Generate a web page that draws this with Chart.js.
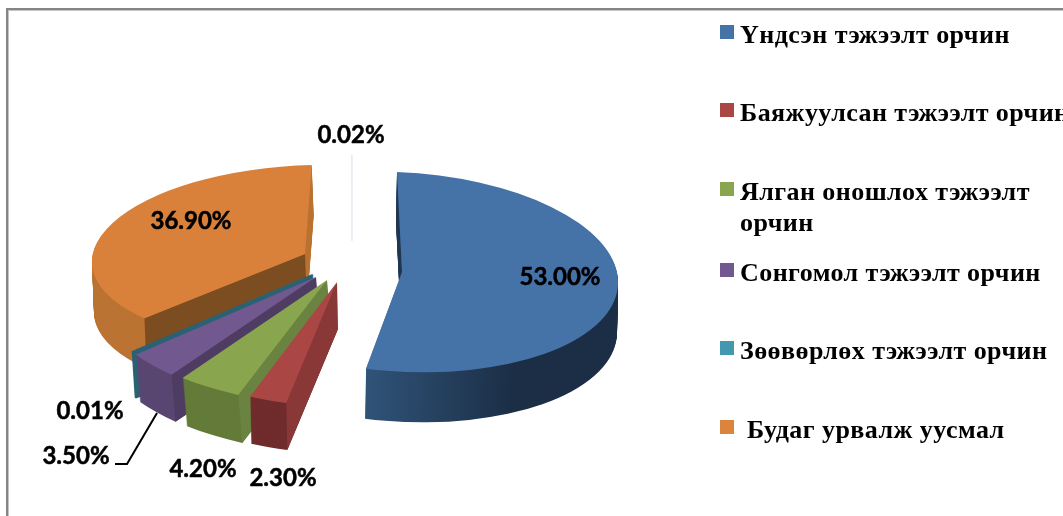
<!DOCTYPE html>
<html>
<head>
<meta charset="utf-8">
<style>
  html, body { margin: 0; padding: 0; background: #fff; overflow: hidden; }
  #wrap { position: relative; width: 1063px; height: 516px; }
  #frame { position: absolute; left: 6px; top: 8px; right: -10px; bottom: -10px;
    border-left: 2px solid #858585; border-top: 2px solid #858585; box-shadow: inset 1px 1px 0 #c4c4c4; }
  canvas { position: absolute; left: 0; top: 0; }
</style>
<script src="https://cdn.jsdelivr.net/npm/chart.js@4"></script>
</head>
<body>
<div id="wrap">
  <div id="frame"></div>
  <canvas id="chart" width="1063" height="516"></canvas>
</div>
<script>
// last slice (0.02%) has no legend entry in the picture
const categories = [
  'Үндсэн тэжээлт орчин',
  'Баяжуулсан тэжээлт орчин',
  ['Ялган оношлох тэжээлт', 'орчин'],
  'Сонгомол тэжээлт орчин',
  'Зөөвөрлөх тэжээлт орчин',
  ' Будаг урвалж уусмал',
  ''
];
const values = [53.0, 2.3, 4.2, 3.5, 0.01, 36.9, 0.02];

const topColors = ['#4572a7', '#aa4643', '#89a54e', '#71588f', '#2b6273', '#d9813b', '#d5d9e6'];
const legendColors = ['#4572a7', '#aa4643', '#89a54e', '#71588f', '#4198af', '#db843d'];
const rimColors = [['#2f5277', '#1b2e45'], '#702c2c', '#647b39', '#5a4672', '#2b6273', '#bb7333', '#d5d9e6'];
const faceColors = ['#1f3550', '#8a3737', '#6b8340', '#4e3c62', '#2b6273', '#7d4d22', '#d5d9e6'];
const borderWidths = [0, 0, 0, 0, 3, 0, 1.5];

// how each exploded slice is laid on the tilted plane: pixels of the apex and of the radius
const sliceFrames = [
  { x: 402, y: 272, a: 216, b: 8, c: 5, d: 100, depth: 50, lean: -1 },
  { x: 337, y: 282, a: 260, b: 9.6, c: -1.4, d: 125, depth: 47, lean: 1 },
  { x: 327, y: 280, a: 242, b: 9.4, c: -9.6, d: 125, depth: 48, lean: 4 },
  { x: 316, y: 277, a: 230, b: 12, c: -17.8, d: 126.6, depth: 47, lean: 4 },
  { x: 312, y: 275, a: 230, b: 12, c: -16, d: 125, depth: 46, lean: 3 },
  { x: 305, y: 254, a: 213, b: -5, c: -7, d: 89, depth: 50, lean: 2 },
  { x: 352, y: 241, a: 86, b: 0, c: 0, d: 86, depth: 0, lean: 0 }
];
const drawOrder = [6, 5, 4, 3, 2, 1, 0];

const labelSpots = [[560, 277], [283, 478], [203, 469], [76, 456], [90, 411], [191, 221], [351, 135]];
const legendRows = [43, 121, 200, 281, 359, 438];

function rimFill(ctx, arc, i) {
  const col = rimColors[i];
  if (typeof col === 'string') return col;
  const k = arc.outerRadius / sliceFrames[i].a;
  const g = ctx.createLinearGradient(arc.x - 36 * k, 0, arc.x + 108 * k, 0);
  g.addColorStop(0, col[0]);
  g.addColorStop(1, col[1]);
  return g;
}

function paintArc(ctx, arc, fill, stroke, width) {
  const saved = arc.options;
  arc.options = Object.assign({}, saved, {
    backgroundColor: fill, borderColor: stroke, borderWidth: width, borderJoinStyle: 'round'
  });
  arc.draw(ctx);
  arc.options = saved;
}

const pie3d = {
  id: 'pie3d',
  beforeDatasetsDraw(chart) {
    const ctx = chart.ctx;
    const arcs = chart.getDatasetMeta(0).data;
    drawOrder.forEach(i => {
      const arc = arcs[i];
      const f = sliceFrames[i];
      const R = arc.outerRadius;
      const place = (dx, dy) => {
        ctx.save();
        ctx.translate(f.x + dx, f.y + dy);
        ctx.transform(f.a / R, f.b / R, f.c / R, f.d / R, 0, 0);
        ctx.translate(-arc.x, -arc.y);
      };
      // side wall: the same arc stacked downward
      const w = borderWidths[i];
      for (let k = f.depth; k > 0; k--) {
        place(f.lean * k / (f.depth || 1), k);
        const fill = rimFill(ctx, arc, i);
        paintArc(ctx, arc, fill, typeof fill === 'string' ? fill : '#000', w);
        ctx.restore();
      }
      // cut face along the slice's start angle
      if (f.depth > 0) {
        const ang = arc.startAngle;
        const rx = f.x + f.a * Math.cos(ang) + f.c * Math.sin(ang);
        const ry = f.y + f.b * Math.cos(ang) + f.d * Math.sin(ang);
        ctx.fillStyle = faceColors[i];
        ctx.beginPath();
        ctx.moveTo(f.x, f.y);
        ctx.lineTo(rx, ry);
        ctx.lineTo(rx + f.lean, ry + f.depth);
        ctx.lineTo(f.x + f.lean, f.y + f.depth);
        ctx.closePath();
        ctx.fill();
      }
      place(0, 0);
      paintArc(ctx, arc, topColors[i], topColors[i], w);
      ctx.restore();
    });
    return false;
  },
  afterDraw(chart) {
    const ctx = chart.ctx;
    ctx.save();
    // leader line for 3.50%
    ctx.strokeStyle = '#000';
    ctx.lineWidth = 2;
    ctx.beginPath();
    ctx.moveTo(115, 464);
    ctx.lineTo(127, 464);
    ctx.lineTo(157, 413);
    ctx.stroke();

    ctx.fillStyle = '#000';
    ctx.font = 'bold 24px Lato';
    ctx.textAlign = 'center';
    ctx.textBaseline = 'middle';
    ctx.lineWidth = 0.5;
    values.forEach((v, i) => {
      const t = v.toFixed(2) + '%';
      ctx.fillText(t, labelSpots[i][0], labelSpots[i][1]);
      ctx.strokeText(t, labelSpots[i][0], labelSpots[i][1]);
    });

    ctx.textAlign = 'left';
    ctx.textBaseline = 'alphabetic';
    ctx.font = 'bold 26px "Liberation Serif"';
    ctx.letterSpacing = '0.45px';
    legendRows.forEach((y, i) => {
      ctx.fillStyle = legendColors[i];
      ctx.fillRect(720, y - 18, 14, 14);
      ctx.fillStyle = '#000';
      const lines = [].concat(categories[i]);
      lines.forEach((t, n) => ctx.fillText(t, 740, y + n * 31));
    });
    ctx.restore();
  }
};

new Chart(document.getElementById('chart').getContext('2d'), {
  type: 'pie',
  data: {
    labels: categories,
    datasets: [{
      data: values,
      backgroundColor: topColors,
      borderColor: topColors,
      borderWidth: borderWidths
    }]
  },
  options: {
    responsive: false,
    animation: false,
    plugins: { legend: { display: false }, tooltip: { enabled: false } }
  },
  plugins: [pie3d]
});
</script>
</body>
</html>
